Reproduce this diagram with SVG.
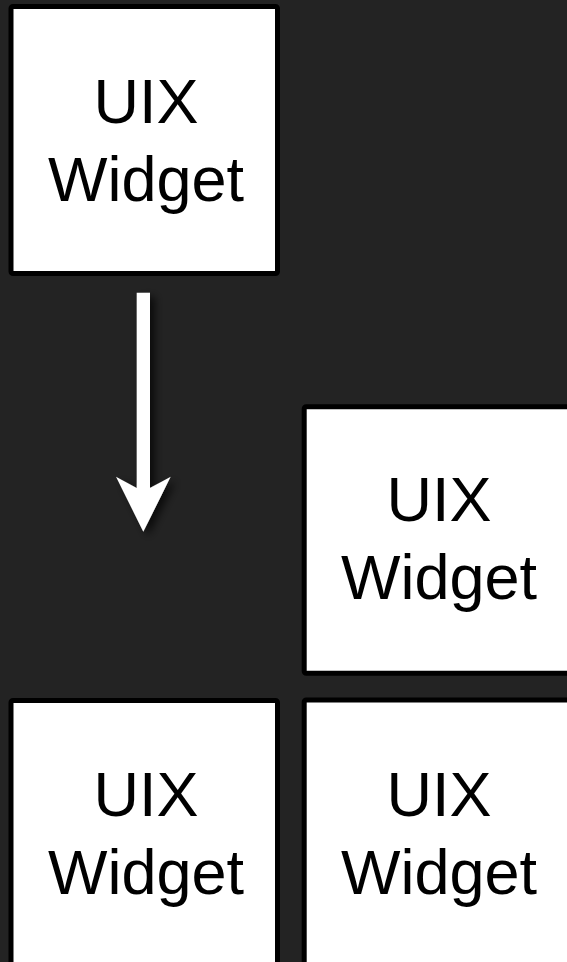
<svg xmlns="http://www.w3.org/2000/svg" width="567" height="962" viewBox="0 0 567 962">
  <defs>
    <style>
      .box { fill: #ffffff; stroke: #000000; stroke-width: 5; }
      .lbl { font-family: "Liberation Sans", Arial, Helvetica, sans-serif; font-size: 63px; fill: #000000; text-anchor: middle; }
    </style>
    <filter id="shadow" x="-50%" y="-20%" width="200%" height="140%">
      <feDropShadow dx="5" dy="4" stdDeviation="4" flood-color="#000000" flood-opacity="0.7"/>
    </filter>
  </defs>
  <rect x="0" y="0" width="567" height="962" fill="#232323"/>

  <g id="widget-top-left">
    <rect class="box" x="11" y="6.5" width="266.5" height="267" rx="2"/>
    <text class="lbl" x="146" y="123">UIX</text>
    <text class="lbl" x="146" y="201">Widget</text>
  </g>

  <g id="widget-mid-right">
    <rect class="box" x="304.2" y="406.8" width="266.5" height="266.5" rx="2"/>
    <text class="lbl" x="439" y="521">UIX</text>
    <text class="lbl" x="439" y="599">Widget</text>
  </g>

  <g id="widget-bottom-left">
    <rect class="box" x="11" y="700.5" width="266.5" height="267" rx="2"/>
    <text class="lbl" x="146" y="816">UIX</text>
    <text class="lbl" x="146" y="894">Widget</text>
  </g>

  <g id="widget-bottom-right">
    <rect class="box" x="304.2" y="700" width="266.5" height="267" rx="2"/>
    <text class="lbl" x="439" y="816">UIX</text>
    <text class="lbl" x="439" y="894">Widget</text>
  </g>

  <g id="connectors">
    <path d="M136.7,292.7 H150 V488 L170.7,476.7 L143.3,531.7 L116,476.7 L136.7,488 Z" fill="#ffffff" filter="url(#shadow)"/>
  </g>
</svg>
